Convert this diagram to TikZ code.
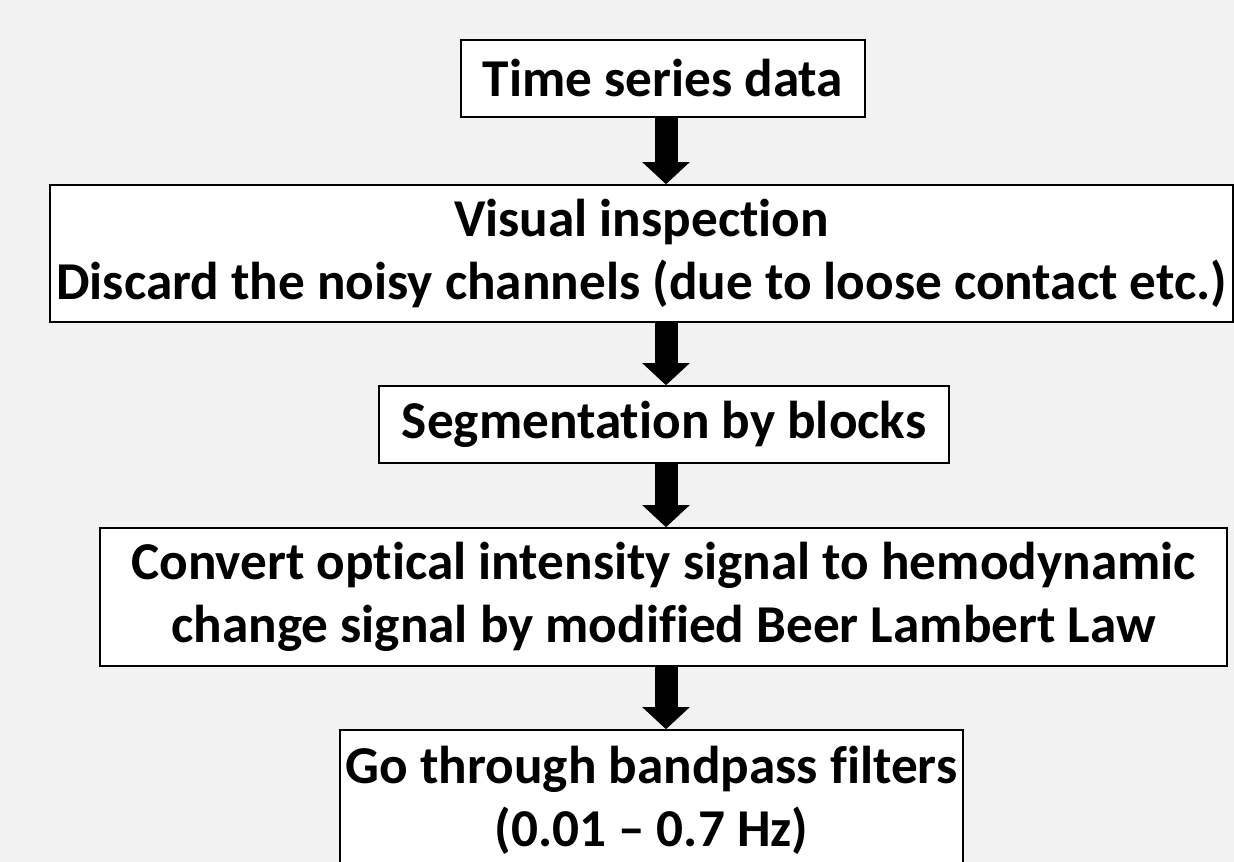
\documentclass[tikz,border=0pt]{standalone}
\usepackage{fontspec}
\setmainfont{Carlito}[Ligatures=NoCommon]
\usetikzlibrary{arrows.meta}
\definecolor{bggray}{HTML}{F2F2F2}

\begin{document}
\begin{tikzpicture}[x=0.02cm, y=-0.02cm,
	box/.style = {draw, line width=0.9pt, fill=white, align=center, inner sep=0pt,
		font=\fontsize{30.3}{36}\selectfont\bfseries},
	flow/.style = {line width=0.46cm, -{Triangle[width=0.92cm, length=0.44cm]}}]
		\useasboundingbox (0,0) rectangle (1234,862);
		\fill[bggray] (0,0) rectangle (1234,862);
		\clip (0,0) rectangle (1234,862);

		\node[box, minimum width=8.08cm, minimum height=1.54cm] (data) at (663,78.5) {Time series data};
		\node[box, minimum width=23.66cm, minimum height=2.74cm] (visual) at (641.5,253.5) {Visual inspection\\Discard the noisy channels (due to loose contact etc.)};
		\node[box, minimum width=11.4cm, minimum height=1.54cm] (seg) at (664,424.5) {Segmentation by blocks};
		\node[box, minimum width=22.54cm, minimum height=2.76cm] (mbll) at (663.5,597) {Convert optical intensity signal to hemodynamic\\ change signal by modified Beer Lambert Law};
		\node[box, minimum width=12.46cm, minimum height=2.8cm] (filt) at (651.5,800) {Go through bandpass filters\\(0.01 -- 0.7 Hz)};

		\coordinate (spine) at (666,0);
		\draw[flow] (data.south -| spine) -- (visual.north -| spine);
		\draw[flow] (visual.south -| spine) -- (seg.north -| spine);
		\draw[flow] (seg.south -| spine) -- (mbll.north -| spine);
		\draw[flow] (mbll.south -| spine) -- (filt.north -| spine);
	
	\end{tikzpicture}
\end{document}
